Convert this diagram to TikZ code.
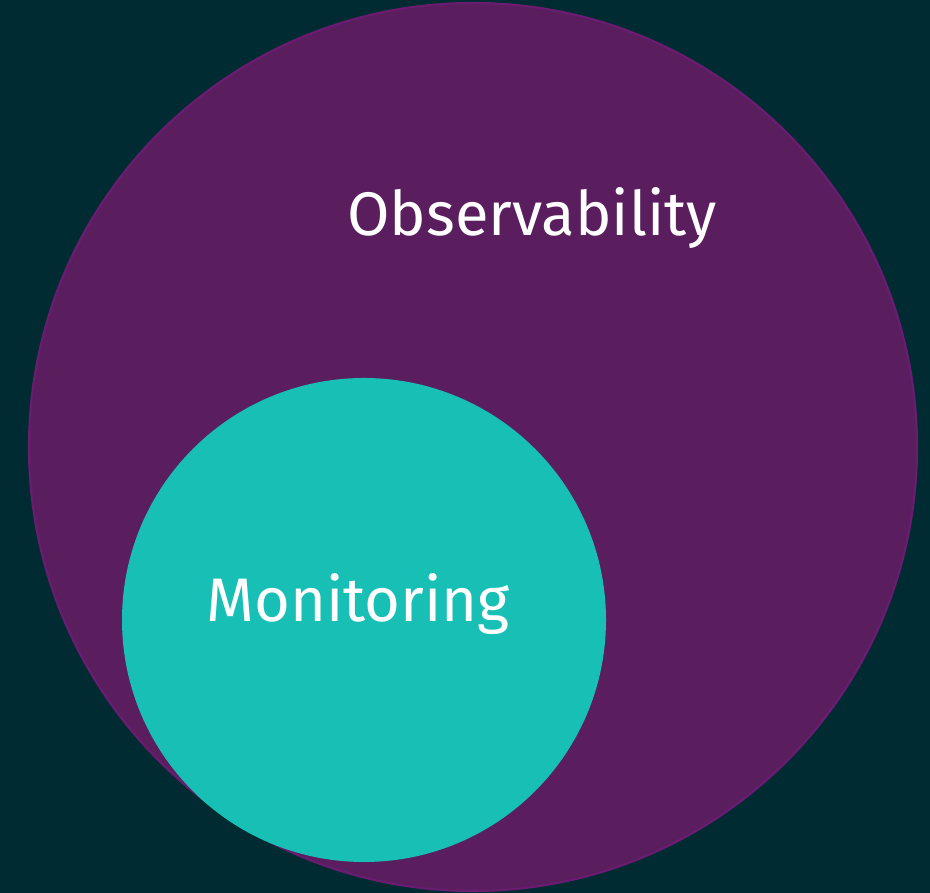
\documentclass[tikz,border=0pt]{standalone}
\usepackage{fontspec}
\setsansfont{Fira Sans}
\usepackage{tikz}
\definecolor{bg}{HTML}{012B32}
\definecolor{plum}{HTML}{5A1E5F}
\definecolor{plumedge}{HTML}{6A1C70}
\definecolor{aqua}{HTML}{17BFB5}
\definecolor{text}{HTML}{FFFFFF}
\tikzset{
  outer/.style={fill=plum, draw=plumedge, line width=0.6pt},
  inner/.style={fill=aqua},
  lab/.style={text=text, inner sep=0pt, anchor=base, font=\sffamily\fontsize{17.5}{20}\selectfont}
}

\begin{document}
\begin{tikzpicture}
  \fill[bg] (0,0) rectangle (9.3,8.93);
  \useasboundingbox (0,0) rectangle (9.3,8.93);

  \coordinate (O) at (4.73,4.46);
  \coordinate (M) at (3.64,2.73);

  \draw[outer] (O) circle[radius=4.44];
  \fill[inner] (M) circle[radius=2.42]; % monitoring sits inside

  \node[lab] (obs) at (5.32,6.57) {Observability};
  \node[lab] (mon) at (3.58,2.71) {Monitoring};
\end{tikzpicture}
\end{document}
